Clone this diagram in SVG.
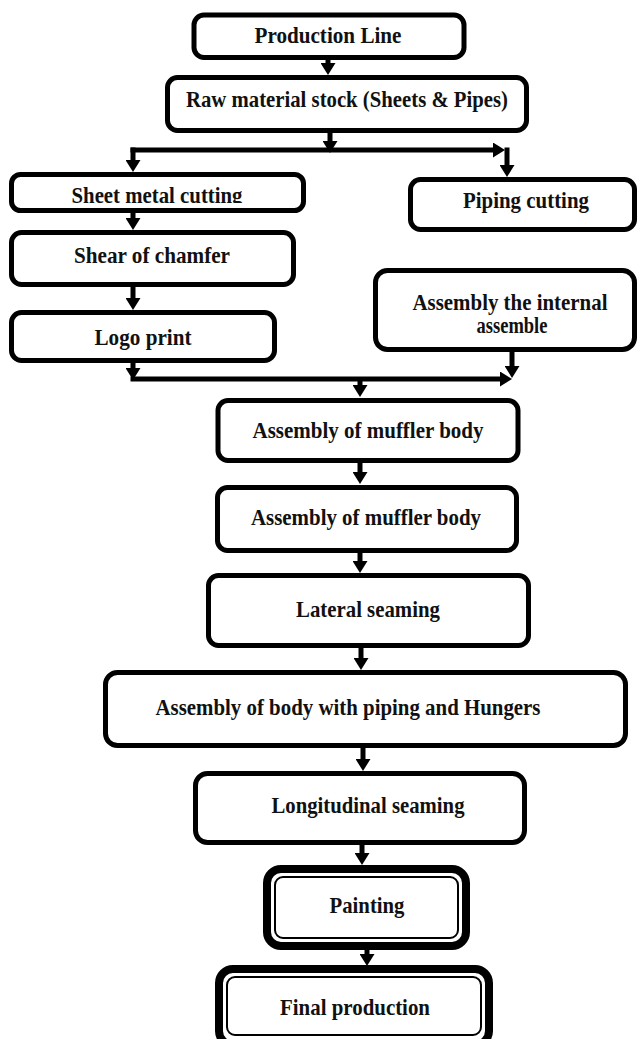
<svg xmlns="http://www.w3.org/2000/svg" width="640" height="1039" viewBox="0 0 640 1039">
  <style>
    .box { fill: #ffffff; stroke: #000000; stroke-width: 5; }
    .outer { fill: #ffffff; stroke: #000000; stroke-width: 8; }
    .inner { fill: none; stroke: #000000; stroke-width: 2; }
    .label { font-family: "Liberation Serif", "Times New Roman", serif; font-weight: bold; font-size: 23px; fill: #111111; text-anchor: middle; }
    .wire { fill: none; stroke: #000000; stroke-width: 5; }
  </style>
  <defs>
    <marker id="head" viewBox="0 0 12 15" refX="0" refY="7.5" markerWidth="12" markerHeight="15" markerUnits="userSpaceOnUse" orient="auto">
      <path d="M0,0 L12,7.5 L0,15 Z" fill="#000000"/>
    </marker>
    <clipPath id="cut-sheet">
      <rect x="14" y="177" width="287" height="26"/>
    </clipPath>
  </defs>
  <rect width="640" height="1039" fill="#ffffff"/>

  <!-- connectors -->
  <g id="connectors">
    <line class="wire" x1="328" y1="60" x2="328" y2="63" marker-end="url(#head)"/>
    <line class="wire" x1="330" y1="133" x2="330" y2="141" marker-end="url(#head)"/>
    <line class="wire" x1="130.5" y1="150" x2="493" y2="150" marker-end="url(#head)"/>
    <line class="wire" x1="133" y1="147.5" x2="133" y2="160" marker-end="url(#head)"/>
    <line class="wire" x1="507" y1="147.5" x2="507" y2="165" marker-end="url(#head)"/>
    <line class="wire" x1="133" y1="213" x2="133" y2="218" marker-end="url(#head)"/>
    <line class="wire" x1="133" y1="287" x2="133" y2="298" marker-end="url(#head)"/>
    <line class="wire" x1="133" y1="363" x2="133" y2="368" marker-end="url(#head)"/>
    <line class="wire" x1="130.5" y1="379" x2="500" y2="379" marker-end="url(#head)"/>
    <line class="wire" x1="512" y1="352" x2="512" y2="366" marker-end="url(#head)"/>
    <line class="wire" x1="360" y1="379" x2="360" y2="385" marker-end="url(#head)"/>
    <line class="wire" x1="360" y1="463" x2="360" y2="472" marker-end="url(#head)"/>
    <line class="wire" x1="360" y1="553" x2="360" y2="561" marker-end="url(#head)"/>
    <line class="wire" x1="361" y1="648" x2="361" y2="658" marker-end="url(#head)"/>
    <line class="wire" x1="363" y1="748" x2="363" y2="759" marker-end="url(#head)"/>
    <line class="wire" x1="362" y1="845" x2="362" y2="853" marker-end="url(#head)"/>
    <line class="wire" x1="367" y1="950" x2="367" y2="954" marker-end="url(#head)"/>
  </g>

  <!-- process steps -->
  <g id="production-line">
    <rect class="box" x="194" y="15" width="270" height="42.5" rx="10"/>
    <text class="label" x="328" y="43" textLength="147" lengthAdjust="spacingAndGlyphs">Production Line</text>
  </g>
  <g id="raw-material">
    <rect class="box" x="167.5" y="77.5" width="359" height="53" rx="10"/>
    <text class="label" x="347" y="107" textLength="322" lengthAdjust="spacingAndGlyphs">Raw material stock (Sheets &amp; Pipes)</text>
  </g>
  <g id="sheet-metal-cutting">
    <rect class="box" x="11.5" y="174.5" width="292" height="36" rx="9"/>
    <text class="label" x="157" y="203" textLength="171" lengthAdjust="spacingAndGlyphs" clip-path="url(#cut-sheet)">Sheet metal cutting</text>
  </g>
  <g id="shear-of-chamfer">
    <rect class="box" x="11.5" y="232.5" width="282" height="52" rx="10"/>
    <text class="label" x="152" y="263" textLength="156" lengthAdjust="spacingAndGlyphs">Shear of chamfer</text>
  </g>
  <g id="logo-print">
    <rect class="box" x="11.5" y="312.5" width="263" height="48" rx="10"/>
    <text class="label" x="143" y="345" textLength="97" lengthAdjust="spacingAndGlyphs">Logo print</text>
  </g>
  <g id="piping-cutting">
    <rect class="box" x="410.5" y="179.5" width="224" height="50" rx="10"/>
    <text class="label" x="526" y="208" textLength="126" lengthAdjust="spacingAndGlyphs">Piping cutting</text>
  </g>
  <g id="internal-assembly">
    <rect class="box" x="375.5" y="270.5" width="259" height="79" rx="12"/>
    <text class="label" x="510" y="310" textLength="195" lengthAdjust="spacingAndGlyphs">Assembly the internal</text>
    <text class="label" x="512" y="333" textLength="71" lengthAdjust="spacingAndGlyphs">assemble</text>
  </g>
  <g id="muffler-body-1">
    <rect class="box" x="218" y="400.5" width="300" height="60" rx="10"/>
    <text class="label" x="368" y="438" textLength="231" lengthAdjust="spacingAndGlyphs">Assembly of muffler body</text>
  </g>
  <g id="muffler-body-2">
    <rect class="box" x="217.5" y="487.5" width="299" height="63" rx="10"/>
    <text class="label" x="366" y="525" textLength="230" lengthAdjust="spacingAndGlyphs">Assembly of muffler body</text>
  </g>
  <g id="lateral-seaming">
    <rect class="box" x="208.5" y="575.5" width="320" height="70" rx="10"/>
    <text class="label" x="368" y="617" textLength="144" lengthAdjust="spacingAndGlyphs">Lateral seaming</text>
  </g>
  <g id="body-piping-hungers">
    <rect class="box" x="105.5" y="672.5" width="520" height="73" rx="12"/>
    <text class="label" x="348" y="715" textLength="385" lengthAdjust="spacingAndGlyphs">Assembly of body with piping and Hungers</text>
  </g>
  <g id="longitudinal-seaming">
    <rect class="box" x="195.5" y="773.5" width="329" height="69" rx="12"/>
    <text class="label" x="368" y="813" textLength="193" lengthAdjust="spacingAndGlyphs">Longitudinal seaming</text>
  </g>
  <g id="painting">
    <rect class="outer" x="267" y="869" width="199" height="77" rx="14"/>
    <rect class="inner" x="275" y="877" width="183" height="61" rx="8"/>
    <text class="label" x="367" y="913" textLength="75" lengthAdjust="spacingAndGlyphs">Painting</text>
  </g>
  <g id="final-production">
    <rect class="outer" x="219" y="969" width="270" height="76" rx="14"/>
    <rect class="inner" x="227" y="977" width="254" height="58" rx="8"/>
    <text class="label" x="355" y="1015" textLength="150" lengthAdjust="spacingAndGlyphs">Final production</text>
  </g>
</svg>
